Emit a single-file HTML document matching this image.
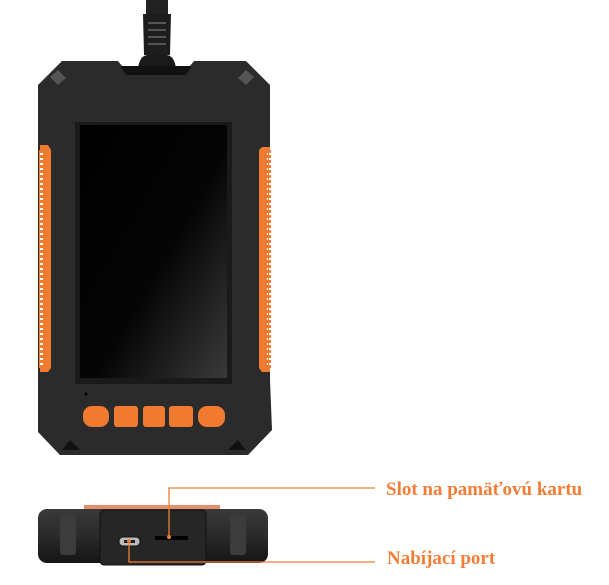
<!DOCTYPE html>
<html><head><meta charset="utf-8"><style>
html,body{margin:0;padding:0;background:#fff;width:609px;height:585px;overflow:hidden}
svg{display:block}
text{font-family:"Liberation Serif",serif;font-weight:bold;fill:#f27d36;font-size:19px}
</style></head><body>
<svg width="609" height="585" viewBox="0 0 609 585">
<defs>
<linearGradient id="scr" x1="0" y1="0" x2="1" y2="1">
<stop offset="0" stop-color="#000"/><stop offset="0.55" stop-color="#050505"/><stop offset="1" stop-color="#3a3a3a"/>
</linearGradient>
<linearGradient id="bot" x1="0" y1="0" x2="0" y2="1">
<stop offset="0" stop-color="#3a3a3a"/><stop offset="0.5" stop-color="#2a2a2a"/><stop offset="1" stop-color="#151515"/>
</linearGradient>
<pattern id="teeth" width="4" height="5" patternUnits="userSpaceOnUse">
<rect width="4" height="5" fill="#f07a30"/><rect x="0" y="3" width="3" height="2" fill="#fff"/>
</pattern>
<pattern id="teethR" width="4" height="5" patternUnits="userSpaceOnUse">
<rect width="4" height="5" fill="#f07a30"/><rect x="1" y="3" width="3" height="2" fill="#fff"/>
</pattern>
</defs>
<!-- cable -->
<rect x="146" y="0" width="22" height="14" fill="#222"/>
<path d="M143 14 H171 L170 55 H144 Z" fill="#1e1e1e"/>
<g fill="#555"><rect x="148" y="22" width="18" height="2"/><rect x="148" y="29" width="18" height="2"/><rect x="148" y="36" width="18" height="2"/><rect x="148" y="43" width="18" height="2"/></g>
<path d="M138 68 Q140 55 148 55 H166 Q174 55 176 68 Z" fill="#1a1a1a"/>
<!-- body -->
<path d="M62 61 H118 L122 66 H190 L194 61 H246 L270 85 V380 L272 430 L248 455 H60 L38 432 V85 Z" fill="#2b2b2b"/>
<path d="M120 66 H192 L186 75 H126 Z" fill="#111"/>
<path d="M40 145 H48 L51 150 V368 L48 372 H40 Z" fill="#f07a30"/>
<rect x="39" y="150" width="4" height="218" fill="url(#teeth)"/>
<path d="M262 147 H270 V372 H262 L259 368 V150 Z" fill="#f07a30"/>
<rect x="267" y="150" width="4" height="218" fill="url(#teethR)"/>
<rect x="75" y="122" width="157" height="262" fill="#1a1a1a"/>
<rect x="80" y="125" width="147" height="253" fill="url(#scr)"/>
<g fill="#555"><path d="M50 77 L58 70 L66 78 L58 85 Z"/><path d="M238 78 L246 70 L254 77 L246 85 Z"/></g>
<circle cx="86" cy="394" r="1.5" fill="#000"/>
<g fill="#f07a30">
<rect x="83" y="406" width="26" height="21" rx="9"/>
<rect x="114" y="406" width="24" height="21" rx="3"/>
<rect x="143" y="406" width="22" height="21" rx="3"/>
<rect x="169" y="406" width="24" height="21" rx="3"/>
<rect x="198" y="406" width="27" height="21" rx="9"/>
</g>
<g fill="#111"><path d="M70 440 L80 450 L62 450 Z"/><path d="M238 440 L228 450 L246 450 Z"/></g>
<!-- bottom view -->
<rect x="84" y="505" width="136" height="5" fill="#e0936a"/>
<rect x="38" y="509" width="230" height="54" rx="9" fill="url(#bot)"/>
<rect x="100" y="510" width="106" height="55" rx="4" fill="#262626" stroke="#111"/>
<rect x="60" y="515" width="16" height="40" rx="3" fill="#3c3c3c"/>
<rect x="230" y="515" width="16" height="40" rx="3" fill="#3c3c3c"/>
<rect x="119" y="537" width="21" height="9" rx="4" fill="#bbb" stroke="#111"/>
<rect x="124" y="540" width="11" height="3" fill="#222"/>
<rect x="155" y="536" width="33" height="4" fill="#000"/>
<!-- callouts -->
<g stroke="#f27d36" stroke-width="1.3" fill="none">
<polyline points="169,537 169,488 375,488"/>
<polyline points="129,541 129,562 375,562"/>
</g>
<circle cx="169" cy="537" r="2" fill="#f27d36"/>
<circle cx="129" cy="541" r="2" fill="#f27d36"/>
<text x="386" y="495">Slot na pamäťovú kartu</text>
<text x="387" y="564">Nabíjací port</text>
</svg>
</body></html>
